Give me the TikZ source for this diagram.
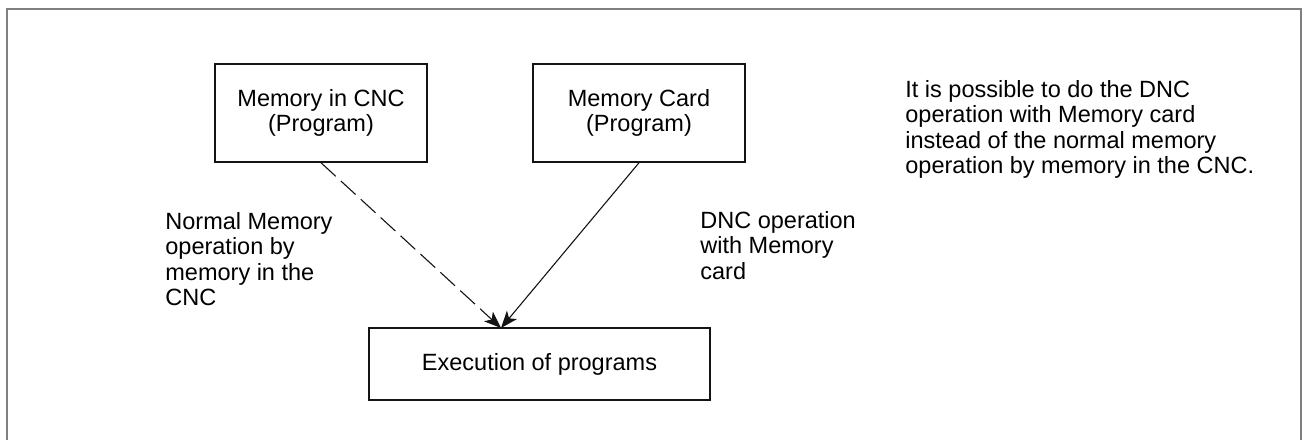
\documentclass[tikz,border=0pt]{standalone}
\usepackage{fontspec}
\setmainfont{Liberation Sans}
\usepackage{xcolor}
\usepackage{tikz}
\usetikzlibrary{positioning, arrows.meta, calc}
\definecolor{ink}{RGB}{20,20,20}
\definecolor{frame}{RGB}{128,128,128}
\tikzset{
  box/.style      ={rectangle, draw=ink, line width=0.75pt, fill=white,
                    inner sep=0pt, font=\fontsize{11.75}{12.75}\selectfont, align=center},
  arr/.style      ={-{Stealth[length=8.5pt, width=6.5pt, inset=2.2pt]}, line width=0.55pt, color=ink},
  dasharr/.style  ={arr, dash pattern=on 10pt off 3.5pt},
  note/.style     ={font=\fontsize{11.75}{12.75}\selectfont, align=left, inner sep=0pt, anchor=north west},
}

\begin{document}
\begin{tikzpicture}[x=0.5pt, y=-0.5pt]
\useasboundingbox (0,0) rectangle (1304,440);
\draw[frame, line width=1.4pt] (7,440) |- (1301,9) -- (1301,440);

\node[box, minimum width=106pt, minimum height=49pt] (cnc) at (321,113)
  {Memory in CNC\\(Program)};
\node[box, minimum width=106pt, minimum height=49pt] (card) at (639,113)
  {Memory Card\\(Program)};
\node[box, minimum width=170.5pt, minimum height=36pt] (exec) at (539.5,364)
  {Execution of programs};
\coordinate (meet) at (501,328);

\node[note] (normal) at (165,212)
  {Normal Memory\\operation by\\memory in the\\CNC};
\node[note] (dnc) at (700,211)
  {DNC operation\\with Memory\\card};
\node[note] (remark) at (905,80)
  {It is possible to do the DNC\\operation with Memory card\\instead of the normal memory\\operation by memory in the CNC.};

\draw[dasharr] (cnc.south) -- (meet);
\draw[arr] (card.south) -- (meet);
\end{tikzpicture}
\end{document}
